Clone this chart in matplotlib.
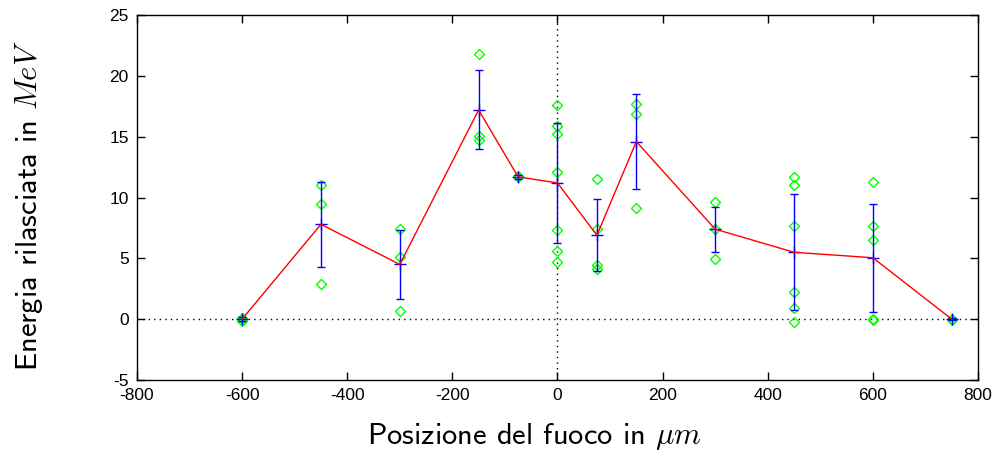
#!/usr/bin/env python3
"""
Energia rilasciata vs posizione del fuoco
"""

import matplotlib
matplotlib.use('Agg')
import matplotlib.pyplot as plt

# posizioni del fuoco (um) e valori medi
pos = [-600, -450, -300, -150, -75, 0, 75, 150, 300, 450, 600, 750]
mean = [0.0, 7.8, 4.5, 17.2, 11.7, 11.2, 6.9, 14.6, 7.4, 5.5, 5.05, 0.0]
err = [0.15, 3.5, 2.85, 3.25, 0.15, 4.9, 2.95, 3.9, 1.85, 4.75, 4.45, 0.1]

# singole misure
meas_x = [-600, -600, -600,
          -450, -450, -450,
          -300, -300, -300,
          -150, -150, -150,
          -75, -75,
          0, 0, 0, 0, 0, 0, 0,
          75, 75, 75, 75,
          150, 150, 150,
          300, 300, 300,
          450, 450, 450, 450, 450, 450,
          600, 600, 600, 600, 600,
          750, 750]
meas_y = [0.1, 0.0, -0.15,
          11.0, 9.5, 2.9,
          7.4, 5.1, 0.7,
          21.8, 15.1, 14.75,
          11.75, 11.65,
          17.6, 15.9, 15.25, 12.1, 7.3, 5.6, 4.7,
          11.5, 7.4, 4.45, 4.15,
          17.7, 16.9, 9.1,
          9.65, 7.45, 4.97,
          11.65, 11.0, 7.7, 2.27, 0.9, -0.2,
          11.25, 7.7, 6.5, 0.0, -0.1,
          0.05, -0.05]

plt.rcParams['font.family'] = ['Liberation Sans', 'DejaVu Sans']
plt.rcParams['mathtext.fontset'] = 'cm'
plt.rcParams['axes.unicode_minus'] = False

fig = plt.figure(figsize=(9.99, 4.57), dpi=100)
ax = fig.add_axes([0.1371, 0.1685, 0.8419, 0.7985])

ax.axhline(0, color='black', linestyle=(0, (1, 3)), linewidth=1, zorder=1)
ax.axvline(0, color='black', linestyle=(0, (1, 3)), linewidth=1, zorder=1)

ax.plot(meas_x, meas_y, linestyle='none', marker='D', markersize=5,
        markerfacecolor='none', markeredgecolor='#00ff00', markeredgewidth=1, zorder=2)
ax.errorbar(pos, mean, yerr=err, fmt='+', color='#0000ff', ecolor='#0000ff',
            elinewidth=1, capsize=3, capthick=1, markersize=8, zorder=3)
ax.plot(pos, mean, color='#ff0000', linewidth=1, zorder=4)

ax.set_xlim(-800, 800)
ax.set_ylim(-5, 25)
ax.set_xticks(range(-800, 801, 200))
ax.set_yticks(range(-5, 26, 5))
ax.tick_params(direction='in', top=True, right=True, length=6, width=1,
               labelsize=12.5, pad=6, colors='black')
for s in ax.spines.values():
    s.set_linewidth(1)

ax.set_xlabel(r'Posizione del fuoco in $\mu m$', fontsize=22, family='cmss10', labelpad=13)
ax.set_ylabel(r'Energia rilasciata in $MeV$', fontsize=22, family='cmss10', labelpad=46)
ax.xaxis.label.set_x(0.473)
ax.yaxis.label.set_y(0.479)

fig.savefig('out.png', dpi=100)
